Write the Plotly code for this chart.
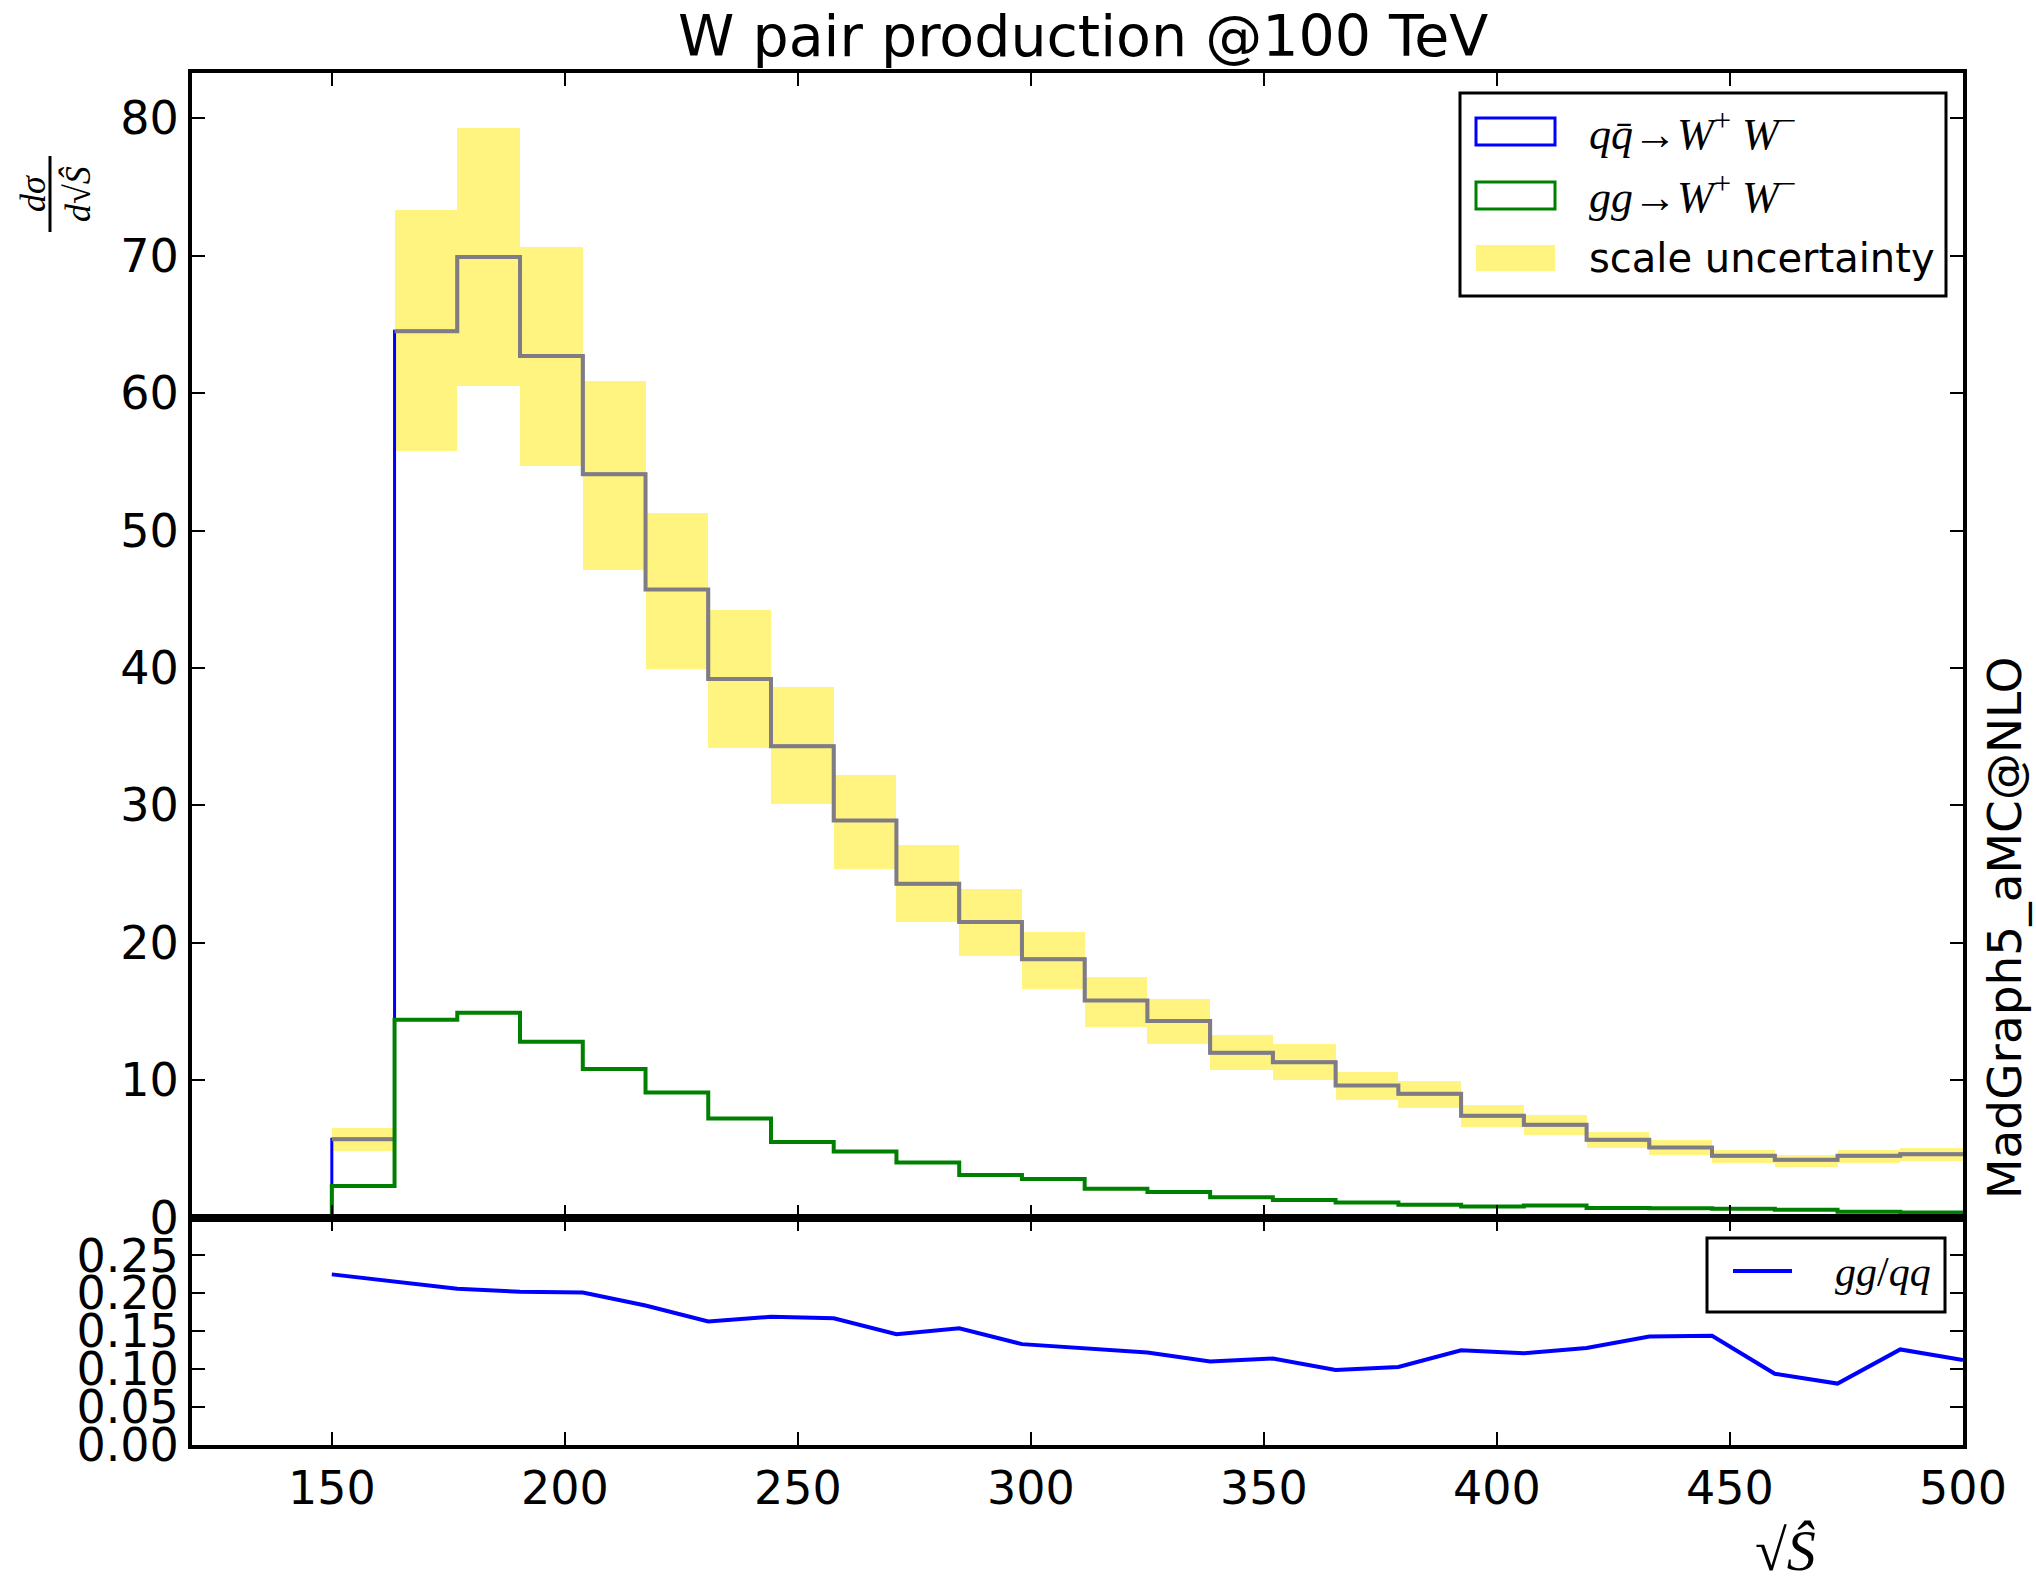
import plotly.graph_objects as go

W, H = 2036, 1584

# ---------------- data ----------------
bin_edges = [150.00, 163.46, 176.92, 190.38, 203.85, 217.31, 230.77, 244.23, 257.69,
             271.15, 284.62, 298.08, 311.54, 325.00, 338.46, 351.92, 365.38, 378.85,
             392.31, 405.77, 419.23, 432.69, 446.15, 459.62, 473.08, 486.54, 500.00]

qq_ww = [5.69, 64.5, 69.9, 62.7, 54.1, 45.7, 39.2, 34.3, 28.9, 24.3, 21.5, 18.8, 15.8,
         14.3, 12.0, 11.3, 9.6, 9.0, 7.4, 6.75, 5.65, 5.1, 4.5, 4.2, 4.5, 4.6]
scale_lo = [4.87, 55.8, 60.5, 54.7, 47.1, 39.9, 34.2, 30.1, 25.4, 21.5, 19.0, 16.6, 13.9,
            12.6, 10.7, 10.0, 8.55, 7.95, 6.6, 6.0, 5.08, 4.57, 4.0, 3.7, 4.0, 4.14]
scale_hi = [6.5, 73.3, 79.3, 70.6, 60.9, 51.3, 44.2, 38.6, 32.2, 27.1, 23.9, 20.8, 17.5,
            15.9, 13.3, 12.6, 10.6, 9.95, 8.2, 7.45, 6.25, 5.64, 4.92, 4.55, 4.92, 5.06]
gg_ww = [2.29, 14.4, 14.9, 12.8, 10.8, 9.1, 7.2, 5.5, 4.8, 4.0, 3.1, 2.8, 2.1,
         1.85, 1.48, 1.27, 1.1, 0.92, 0.8, 0.88, 0.7, 0.67, 0.64, 0.56, 0.42, 0.37]
ratio_x = bin_edges
ratio_gg_qq = [0.225, 0.215, 0.206, 0.202, 0.201, 0.184, 0.163, 0.169, 0.167, 0.146,
               0.154, 0.133, 0.128, 0.122, 0.110, 0.114, 0.099, 0.103, 0.125, 0.121,
               0.128, 0.143, 0.144, 0.094, 0.081, 0.126, 0.112]

x_ticks = [150, 200, 250, 300, 350, 400, 450, 500]
y_ticks_main = [0, 10, 20, 30, 40, 50, 60, 70, 80]
y_ticks_ratio = [0.00, 0.05, 0.10, 0.15, 0.20, 0.25]

title_text = "W pair production @100 TeV"
side_text = "MadGraph5_aMC@NLO"

# ---------------- helpers ----------------
def px(x):
    return x / W

def py(y):
    return 1 - y / H

SANS = "DejaVu Sans"
SERIF = "Liberation Serif"

centers = [(a + b) / 2 for a, b in zip(bin_edges[:-1], bin_edges[1:])]
widths = [b - a for a, b in zip(bin_edges[:-1], bin_edges[1:])]

fig = go.Figure()

# scale uncertainty band
fig.add_trace(go.Bar(
    x=centers, y=[h - l for h, l in zip(scale_hi, scale_lo)], base=scale_lo,
    width=widths, marker=dict(color="#FFF480", line=dict(width=0)),
    xaxis="x", yaxis="y", showlegend=False, hoverinfo="skip"))

# q qbar histogram (blue), step
fig.add_trace(go.Scatter(
    x=[bin_edges[0]] + bin_edges, y=[0] + qq_ww + [qq_ww[-1]],
    mode="lines", line=dict(color="#0000FF", width=3, shape="hv"),
    xaxis="x", yaxis="y", showlegend=False))

# central scale line (gray)
gx = [bin_edges[0], bin_edges[1], None] + bin_edges[1:]
gy = [qq_ww[0], qq_ww[0], None] + qq_ww[1:] + [qq_ww[-1]]
fig.add_trace(go.Scatter(
    x=gx, y=gy, mode="lines", connectgaps=False,
    line=dict(color="#807C84", width=4, shape="hv"),
    xaxis="x", yaxis="y", showlegend=False))

# gg histogram (green)
fig.add_trace(go.Scatter(
    x=[bin_edges[0]] + bin_edges, y=[0] + gg_ww + [gg_ww[-1]],
    mode="lines", line=dict(color="#008000", width=4, shape="hv"),
    xaxis="x", yaxis="y", showlegend=False))

# ratio panel
fig.add_trace(go.Scatter(
    x=ratio_x, y=ratio_gg_qq, mode="lines",
    line=dict(color="#0000FF", width=4),
    xaxis="x2", yaxis="y2", showlegend=False))

x_dom = [px(192), px(1963)]
axis_common = dict(showline=True, linecolor="black", linewidth=4, mirror="ticks",
                   ticks="inside", ticklen=13, tickwidth=2, tickcolor="black",
                   showgrid=False, zeroline=False, automargin=False,
                   tickfont=dict(family=SANS, size=46, color="black"))

fig.update_layout(
    width=W, height=H, margin=dict(l=0, r=0, t=0, b=0, autoexpand=False),
    paper_bgcolor="white", plot_bgcolor="white",
    bargap=0, showlegend=False,
    xaxis=dict(domain=x_dom, anchor="y", range=[120, 500], tickvals=x_ticks,
               showticklabels=False, **axis_common),
    yaxis=dict(domain=[py(1217.5), py(73)], anchor="x", range=[0, 83.3],
               tickvals=y_ticks_main, **axis_common),
    xaxis2=dict(domain=x_dom, anchor="y2", range=[120, 500], tickvals=x_ticks,
                **axis_common),
    yaxis2=dict(domain=[py(1445), py(1217.5)], anchor="x2", range=[0, 0.3],
                tickvals=y_ticks_ratio, tickformat=".2f", **axis_common),
)

shapes = []
annotations = []

# main legend
shapes.append(dict(type="rect", xref="paper", yref="paper",
                   x0=px(1460), x1=px(1946), y0=py(93), y1=py(296),
                   line=dict(color="black", width=3), fillcolor="white", layer="above"))
shapes.append(dict(type="rect", xref="paper", yref="paper",
                   x0=px(1476), x1=px(1555), y0=py(118), y1=py(145),
                   line=dict(color="#0000FF", width=3)))
shapes.append(dict(type="rect", xref="paper", yref="paper",
                   x0=px(1476), x1=px(1555), y0=py(182), y1=py(209),
                   line=dict(color="#008000", width=3)))
shapes.append(dict(type="rect", xref="paper", yref="paper",
                   x0=px(1476), x1=px(1555), y0=py(245), y1=py(271),
                   line=dict(width=0), fillcolor="#FFF480"))
leg_items = [
    ("<i>q</i><i>q\u0304</i>\u2192<i>W</i><sup>+</sup> <i>W</i><sup>\u2212</sup>", 131, SERIF, 44),
    ("<i>gg</i>\u2192<i>W</i><sup>+</sup> <i>W</i><sup>\u2212</sup>", 195, SERIF, 44),
    ("scale uncertainty", 258, SANS, 40),
]
for txt, yy, fam, fs in leg_items:
    annotations.append(dict(text=txt, xref="paper", yref="paper", x=px(1587), y=py(yy),
                            xanchor="left", yanchor="middle", showarrow=False,
                            font=dict(family=fam, size=fs, color="black")))

# ratio legend
shapes.append(dict(type="rect", xref="paper", yref="paper",
                   x0=px(1707), x1=px(1945), y0=py(1238), y1=py(1312),
                   line=dict(color="black", width=3), fillcolor="white", layer="above"))
shapes.append(dict(type="line", xref="paper", yref="paper",
                   x0=px(1733), x1=px(1792), y0=py(1271), y1=py(1271),
                   line=dict(color="#0000FF", width=4)))
annotations.append(dict(text="<i>gg</i>/<i>qq</i>", xref="paper", yref="paper",
                        x=px(1833), y=py(1272), xanchor="left", yanchor="middle",
                        showarrow=False, font=dict(family=SERIF, size=42, color="black")))

# title
annotations.append(dict(text=title_text, xref="paper", yref="paper", x=px(1083), y=py(36),
                        xanchor="center", yanchor="middle", showarrow=False,
                        font=dict(family=SANS, size=57, color="black")))
# right-side label
annotations.append(dict(text=side_text, xref="paper", yref="paper", x=px(2004), y=py(928),
                        xanchor="center", yanchor="middle", showarrow=False, textangle=-90,
                        font=dict(family=SANS, size=47, color="black")))
# y-axis label (fraction)
annotations.append(dict(text="<i>d\u03c3</i>", xref="paper", yref="paper", x=px(33), y=py(194),
                        xanchor="center", yanchor="middle", showarrow=False, textangle=-90,
                        font=dict(family=SERIF, size=36, color="black")))
annotations.append(dict(text="<i>d</i>\u221a<i>S\u0302</i>", xref="paper", yref="paper",
                        x=px(78), y=py(194), xanchor="center", yanchor="middle",
                        showarrow=False, textangle=-90,
                        font=dict(family=SERIF, size=36, color="black")))
shapes.append(dict(type="line", xref="paper", yref="paper",
                   x0=px(50), x1=px(50), y0=py(156), y1=py(232),
                   line=dict(color="black", width=3)))
# x-axis label
annotations.append(dict(text="\u221a<i>S\u0302</i>", xref="paper", yref="paper",
                        x=px(1785), y=py(1550), xanchor="center", yanchor="middle",
                        showarrow=False, font=dict(family=SERIF, size=58, color="black")))

fig.update_layout(shapes=shapes, annotations=annotations)

fig.write_html("out.html")
